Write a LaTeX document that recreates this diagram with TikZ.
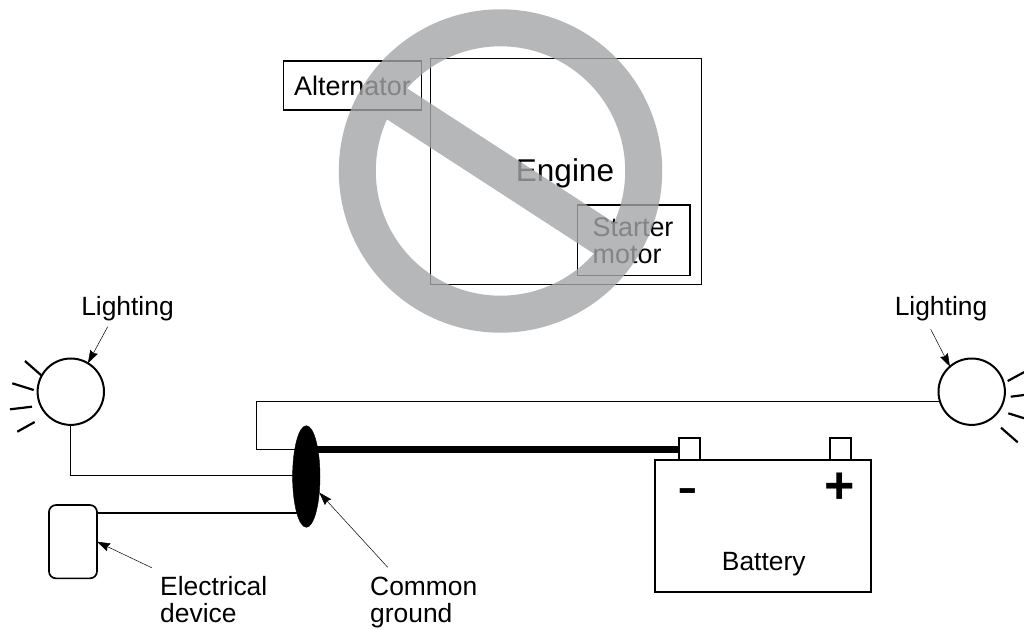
\documentclass[tikz,border=0pt]{standalone}
\usepackage{fontspec}
\setmainfont{Liberation Sans}
\usetikzlibrary{arrows.meta,shapes.geometric,calc}
\definecolor{ringgrey}{RGB}{164,165,167}
\tikzset{
  x=1pt,y=-1pt,
  every node/.style={inner sep=0pt,outer sep=0pt},
  txt/.style={anchor=base,font=\fontsize{26.4}{26.4}\selectfont},
  boxtxt/.style={anchor=base,font=\fontsize{26.9}{26.9}\selectfont},
  bigtxt/.style={anchor=base,font=\fontsize{31.5}{31.5}\selectfont},
  boxnode/.style={draw=black,rectangle,line width=1.2pt},
  lamp/.style={draw=black,circle,fill=white,minimum size=66.4pt,line width=2pt},
  ray/.style={line width=2.2pt},
  wire/.style={line width=1pt},
  ptr/.style={line width=0.5pt,-{Stealth[length=13pt,width=8.5pt,inset=1.5pt]}},
  batt/.style={draw=black,rectangle,fill=white,line width=2pt},
}
\begin{document}
\begin{tikzpicture}
\fill[white] (0,0) rectangle (1024,629);
\useasboundingbox (0,0) rectangle (1024,629);
% engine group
\node[boxnode,minimum width=271pt,minimum height=225.6pt] (engine) at (566.2,171.5) {};
\node[boxnode,minimum width=137.6pt,minimum height=49pt] (altbox) at (352.5,85.5) {};
\node[boxnode,minimum width=112.7pt,minimum height=70.7pt] (startbox) at (633.7,240.3) {};
\node[bigtxt] (enginetxt) at (565,181) {Engine};
\node[boxtxt] (alttxt) at (352.5,95.5) {Alternator};
\node[boxtxt,anchor=base west] (starttxt) at (592.7,236.7) {Starter};
\node[boxtxt,anchor=base west] (motortxt) at (592.7,263.3) {motor};
% lamps
\node[lamp] (lampL) at (70.8,391.7) {};
\node[lamp] (lampR) at (971.7,391.7) {};
\draw[ray] (25,361) -- (41.7,375.7);
\draw[ray] (12.3,383.3) -- (33.7,390);
\draw[ray] (10,409.3) -- (32,406.7);
\draw[ray] (17.3,431.7) -- (34.7,422);
\draw[ray] (1007.7,381) -- (1024,372.2);
\draw[ray] (1010.7,396.7) -- (1024,395);
\draw[ray] (1008.3,413.3) -- (1024,418.2);
\draw[ray] (1001,427.7) -- (1017.7,442.3);
\node[txt] (lightL) at (127.5,315) {Lighting};
\node[txt] (lightR) at (941,315) {Lighting};
\coordinate (ptrL) at (107.7,326.7);
\coordinate (ptrR) at (930.7,329.3);
\draw[ptr] (ptrL) -- (lampL.59);
\draw[ptr] (ptrR) -- (lampR.131.5);
% battery
\node[batt,minimum width=216pt,minimum height=131.7pt] (battery) at (763.3,525.8) {};
\node[batt,minimum width=21.3pt,minimum height=22pt] (tneg) at (689.3,449) {};
\node[batt,minimum width=20.7pt,minimum height=22pt] (tpos) at (840.3,449) {};
\node[anchor=base,font=\fontsize{62}{62}\selectfont] (minus) at (688,507) {-};
\node[anchor=base,font=\fontsize{52}{52}\bfseries\selectfont] (plus) at (840,503) {+};
\node[txt] (batttxt) at (763.7,570) {Battery};
% ground and device
\node[draw=black,fill=white,rectangle,rounded corners=7pt,line width=1.7pt,minimum width=48pt,minimum height=73.3pt] (device) at (73,541.7) {};
\coordinate (wirecorner) at (256,401.7);
\coordinate (wirein) at (306.3,475);
\coordinate (groundup) at (306.3,449);
\coordinate (devwire) at (306.3,512.7);
\draw[wire] (lampR.197.5) -- (wirecorner |- lampR.197.5) -- (wirecorner |- groundup) -- (groundup);
\draw[wire] (lampL.south) |- (wirein);
\draw[line width=1.6pt] (device.east |- devwire) -- (devwire);
\node[draw=black,fill=black,ellipse,minimum width=27.4pt,minimum height=101.6pt] (ground) at (306.3,476.5) {};
\draw[line width=7pt] (groundup) -- (tneg.west);
\node[txt,anchor=base west] (devtxt) at (160.2,595.7) {Electrical};
\node[txt,anchor=base west] (devtxtb) at (160.2,622.3) {device};
\node[txt,anchor=base west] (gndtxt) at (370.2,595.7) {Common};
\node[txt,anchor=base west] (gndtxtb) at (370.2,622.3) {ground};
\coordinate (ptrD) at (151.7,567.7);
\coordinate (ptrG) at (387.7,567.3);
\draw[ptr] (ptrD) -- (device.east);
\draw[ptr] (ptrG) -- (ground.309.5);
% prohibition sign
\begin{scope}[transparency group,opacity=0.8]
\draw[ringgrey,line width=37pt] (500.5,171) circle[radius=143.2pt];
\draw[ringgrey,line width=37pt] (380.4,93) -- (620.6,249);
\end{scope}
\end{tikzpicture}
\end{document}
